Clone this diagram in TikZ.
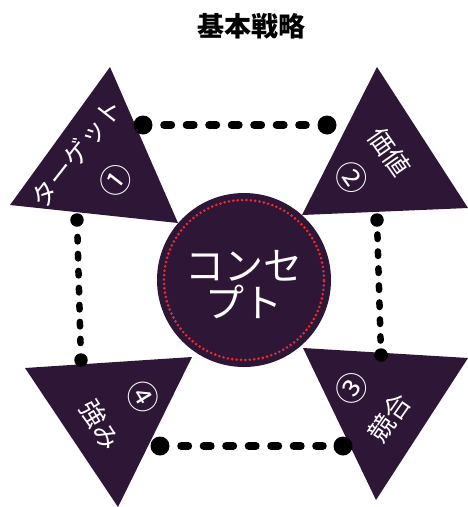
\documentclass[tikz,border=0pt]{standalone}
\usepackage{fontspec}
\newfontfamily\cjk{Noto Sans CJK JP}
\definecolor{deep}{HTML}{2D1636}
\definecolor{reddot}{HTML}{EE2A30}
\begin{document}
\begin{tikzpicture}[x=1pt,y=-1pt,
  tri/.style={fill=deep},
  bigdot/.style={circle,fill=black,inner sep=0pt,minimum size=19pt},
  smalldot/.style={circle,fill=black,inner sep=0pt,minimum size=13.5pt},
  hdash/.style={line width=8pt,line cap=round,dash pattern=on 7pt off 15.5pt},
  vdash/.style={line width=6.5pt,line cap=round,dash pattern=on 4.5pt off 12.5pt},
  lbl/.style={text=white,inner sep=0pt,font=\cjk\fontsize{26}{28}\selectfont},
  num/.style={text=white,inner sep=0pt,font=\cjk\fontsize{32}{34}\selectfont},
]
\useasboundingbox (0,0) rectangle (468,507);
% title
\node[font=\cjk\bfseries\fontsize{27}{30}\selectfont,inner sep=0pt] (title) at (251,26) {基本戦略};
% triangles
\fill[tri] (110,67) -- (10,205) -- (178,223) -- cycle;
\fill[tri] (377,67) -- (302,215) -- (468,208) -- cycle;
\fill[tri] (303,348) -- (468,358) -- (376,500) -- cycle;
\fill[tri] (25,368) -- (192,357) -- (118,507) -- cycle;
% center circle
\node[circle,fill=deep,minimum size=174pt,inner sep=0pt] (c) at (244,280) {};
\draw[reddot,line width=2.9pt,line cap=round,dash pattern=on 0pt off 4.4pt] (c.center) circle[radius=80pt];
\node[text=white,inner sep=0pt,align=center,font=\cjk\fontsize{39}{37}\selectfont] (concept) at (244,285) {コンセ\\プト};
% labels
\node[lbl,rotate=52] (l1) at (77,153) {ターゲット};
\node[num,rotate=52] (n1) at (116,180) {①};
\node[lbl,rotate=-55] (l2) at (390,152) {価値};
\node[num,rotate=-55] (n2) at (352,178) {②};
\node[lbl,rotate=55] (l3) at (389,418) {競合};
\node[num,rotate=55] (n3) at (352,388) {③};
\node[lbl,rotate=-59] (l4) at (100,425) {強み};
\node[num,rotate=-59] (n4) at (143,397) {④};
% dots
\node[bigdot] (tl) at (143,125) {};
\node[bigdot] (tr) at (327,125) {};
\node[bigdot] (bl) at (160,446) {};
\node[bigdot] (br) at (343,446) {};
\node[smalldot] (lt) at (77,220) {};
\node[smalldot] (lb) at (81,360) {};
\node[smalldot] (rt) at (377,220) {};
\node[smalldot] (rb) at (381,355) {};
% dashed connectors
\draw[hdash,shorten <=11.5pt,shorten >=11.5pt] (tl) -- (tr);
\draw[hdash,shorten <=11.5pt,shorten >=10.5pt] (bl) -- (br);
\draw[vdash,shorten <=10pt,shorten >=10pt] (lt) -- (lb);
\draw[vdash,shorten <=7.5pt,shorten >=7.5pt] (rt) -- (rb);
\end{tikzpicture}
\end{document}
